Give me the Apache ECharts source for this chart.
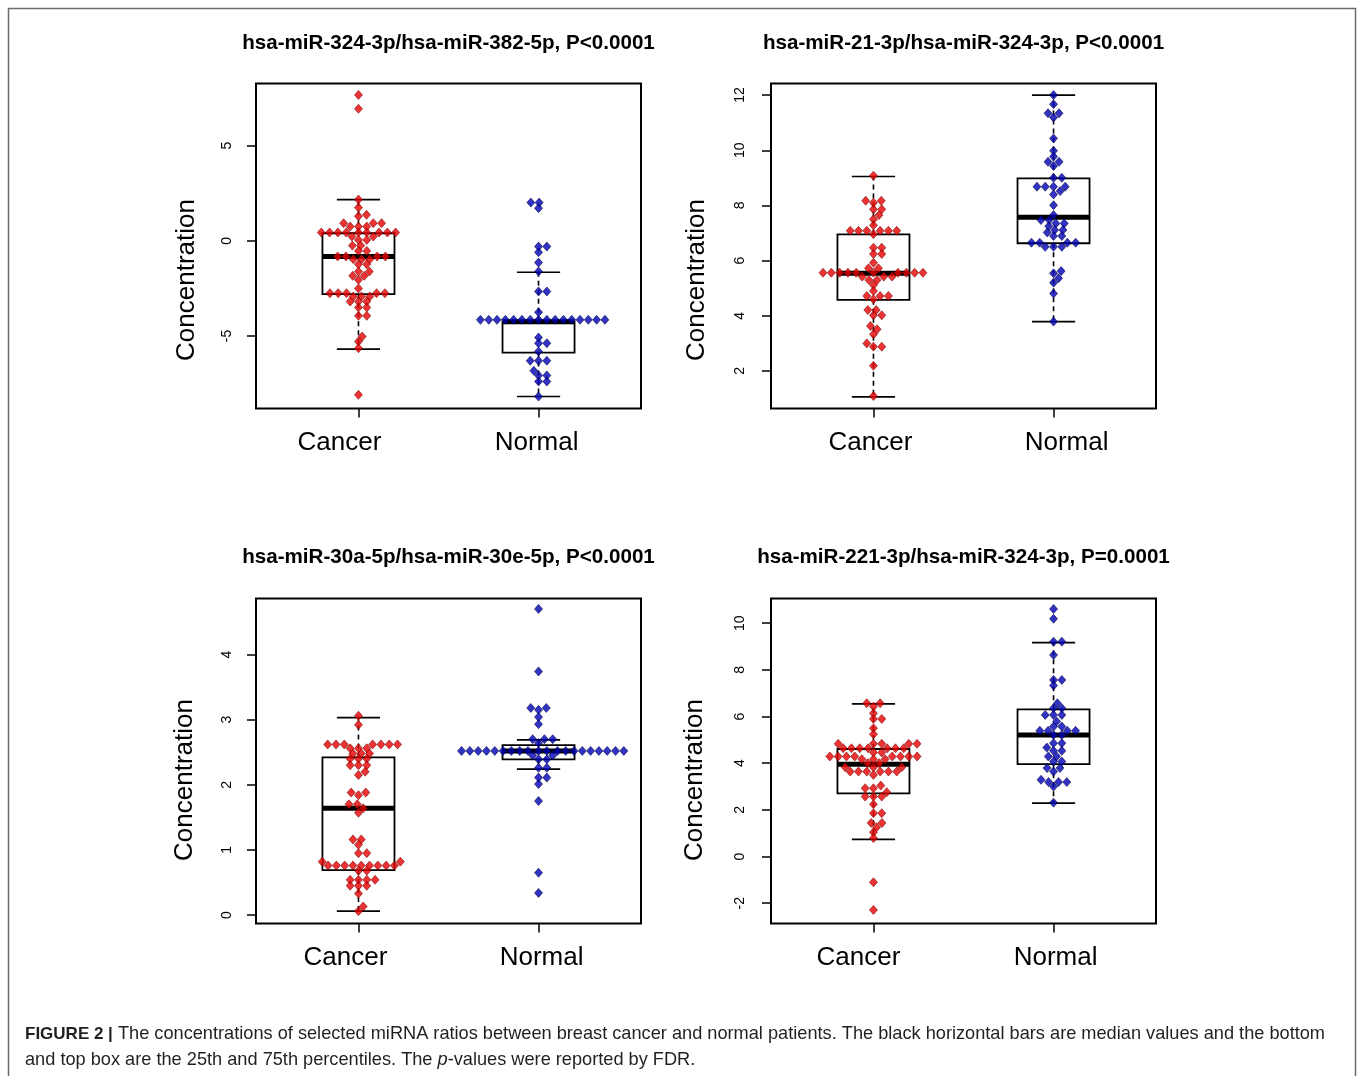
<!DOCTYPE html>
<html><head><meta charset="utf-8">
<script src="https://cdn.jsdelivr.net/npm/echarts@6/dist/echarts.min.js"></script>
<style>html,body{margin:0;padding:0;background:#fff}#c{width:1358px;height:1076px}</style>
</head><body><div id="c"></div>
<script>
// ---------------- data ----------------
const categories = ['Cancer', 'Normal'];
const titles = [
  'hsa-miR-324-3p/hsa-miR-382-5p, P<0.0001',
  'hsa-miR-21-3p/hsa-miR-324-3p, P<0.0001',
  'hsa-miR-30a-5p/hsa-miR-30e-5p, P<0.0001',
  'hsa-miR-221-3p/hsa-miR-324-3p, P=0.0001'
];
const yAxisName = 'Concentration';
const yTicks = [[-5, 0, 5], [2, 4, 6, 8, 10, 12], [0, 1, 2, 3, 4], [-2, 0, 2, 4, 6, 8, 10]];
const yRanges = [[-8.81, 8.27], [0.64, 12.42], [-0.13, 4.86], [-2.87, 11.06]];

const p1Cancer = [7.67, 6.94, 2.17, 1.75, 1.37, 1.30, 0.93, 0.93, 0.93, 0.75, 0.75, 0.75,
  0.44, 0.44, 0.44, 0.44, 0.44, 0.44, 0.44, 0.44, 0.44, 0.23, 0.23, 0.05, 0.05, -0.25, -0.25,
  -0.53, -0.53, -0.82, -0.82, -0.82, -0.82, -0.96, -0.96, -0.96, -1.23, -1.23, -1.61, -1.61,
  -1.84, -1.84, -2.05, -2.50, -2.75, -2.75, -2.75, -2.75, -2.75, -2.92, -2.92, -2.92,
  -3.19, -3.19, -3.19, -3.50, -3.50, -3.94, -3.94, -5.03, -5.29, -5.64, -8.09];
const p1Normal = [2.01, 2.01, 1.72, -0.30, -0.30, -0.60, -1.14, -1.61, -2.66, -2.66, -3.75,
  -4.15, -4.15, -4.15, -4.15, -4.15, -4.15, -4.15, -4.15, -4.15, -4.15, -4.15, -4.15, -4.15, -4.15, -4.15, -4.15,
  -5.08, -5.38, -5.38, -5.81, -6.30, -6.30, -6.30, -6.83, -7.07, -7.07, -7.39, -7.39, -8.18];
const p1Box = [[-5.69, -2.80, -0.82, 0.40, 2.17], [-8.18, -5.87, -4.25, -4.25, -1.65]];

const p2Cancer = [9.08, 8.17, 8.17, 8.10, 7.86, 7.86, 7.65, 7.50, 7.28,
  7.08, 7.08, 7.08, 7.08, 7.08, 7.08, 6.96, 6.47, 6.47, 6.24, 6.24, 5.92, 5.72, 5.72,
  5.56, 5.56, 5.56, 5.56, 5.56, 5.56, 5.56, 5.56, 5.56, 5.56, 5.42, 5.42, 5.42, 5.30, 5.30,
  5.12, 4.90, 4.72, 4.72, 4.72, 4.60, 4.21, 4.21, 4.02, 4.02, 3.63, 3.51, 3.33, 3.00,
  2.88, 2.88, 2.19, 1.09];
const p2Normal = [12.0, 11.67, 11.34, 11.34, 11.19, 10.43, 9.98, 9.77, 9.58, 9.58, 9.43,
  9.00, 9.00, 8.68, 8.68, 8.68, 8.68, 8.52, 8.40, 8.01, 7.65, 7.47, 7.47, 7.35, 7.35, 7.25,
  7.11, 7.11, 7.02, 6.89, 6.89, 6.65, 6.65, 6.65, 6.65, 6.50, 6.50, 6.50, 5.62, 5.54, 5.36,
  5.20, 4.81, 3.79];
const p2Box = [[1.06, 4.58, 5.54, 6.95, 9.05], [3.79, 6.63, 7.57, 8.98, 12.0]];

const p3Cancer = [3.06, 2.92, 2.62, 2.62, 2.62, 2.62, 2.62, 2.62, 2.62, 2.56, 2.56, 2.56,
  2.48, 2.48, 2.48, 2.40, 2.40, 2.40, 2.30, 2.30, 2.30, 2.20, 2.15, 1.88, 1.88, 1.84,
  1.70, 1.70, 1.64, 1.57, 1.16, 1.16, 1.08, 0.95, 0.95, 0.82, 0.82,
  0.76, 0.76, 0.76, 0.76, 0.76, 0.76, 0.76, 0.76, 0.76, 0.68, 0.68,
  0.54, 0.54, 0.54, 0.54, 0.45, 0.45, 0.45, 0.33, 0.13, 0.06];
const p3Normal = [4.70, 3.74, 3.18, 3.18, 3.15, 3.04, 2.93, 2.70, 2.70, 2.70, 2.64,
  2.52, 2.52, 2.52, 2.52, 2.52, 2.52, 2.52, 2.52, 2.52, 2.52, 2.52, 2.52, 2.52, 2.52, 2.52, 2.52, 2.52, 2.52, 2.52, 2.52,
  2.45, 2.45, 2.39, 2.39, 2.26, 2.26, 2.11, 2.11, 2.01, 1.75, 0.65, 0.34];
const p3Box = [[0.06, 0.69, 1.64, 2.42, 3.03], [2.24, 2.39, 2.52, 2.61, 2.69]];

const p4Cancer = [6.57, 6.57, 6.43, 6.14, 5.90, 5.90, 5.50, 5.24,
  4.83, 4.83, 4.83, 4.83, 4.83, 4.64, 4.64, 4.64, 4.64, 4.64, 4.64, 4.64, 4.46, 4.46,
  4.29, 4.29, 4.29, 4.29, 4.29, 4.29, 4.29, 4.29, 4.17, 4.17, 4.17, 4.00, 4.00,
  3.83, 3.83, 3.83, 3.64, 3.64, 3.64, 3.64, 3.64, 3.64, 3.50, 3.04, 2.93, 2.93, 2.76,
  2.57, 2.57, 2.57, 2.24, 1.86, 1.86, 1.44, 1.44, 1.26, 1.04, 0.79, -1.10, -2.29];
const p4Normal = [10.61, 10.19, 9.21, 9.21, 8.64, 7.57, 7.57, 7.33, 6.57, 6.36, 6.36,
  6.07, 6.07, 6.07, 5.79, 5.57, 5.57, 5.39, 5.39, 5.39, 5.39, 5.21, 5.21, 4.86, 4.86, 4.67,
  4.53, 4.53, 4.29, 4.29, 4.07, 4.07, 3.79, 3.79, 3.64, 3.29, 3.19, 3.19, 3.19, 3.00, 2.31];
const p4Box = [[0.74, 2.71, 3.96, 4.61, 6.54], [2.29, 3.96, 5.21, 6.31, 9.17]];

const captionLine1 = 'The concentrations of selected miRNA ratios between breast cancer and normal patients. The black horizontal bars are median values and the bottom';
const captionLine2a = 'and top box are the 25th and 75th percentiles. The ';
const captionLine2b = '-values were reported by FDR.';

// ---------------- layout ----------------
const panels = [
  {cancer: p1Cancer, normal: p1Normal, box: p1Box},
  {cancer: p2Cancer, normal: p2Normal, box: p2Box},
  {cancer: p3Cancer, normal: p3Normal, box: p3Box},
  {cancer: p4Cancer, normal: p4Normal, box: p4Box}
];
const FONT = "'Liberation Sans', Arial, Helvetica, sans-serif";
const GW = 385, GH = 325;
const gridPos = [[256, 83.5], [771, 83.5], [256, 598.5], [771, 598.5]];
const labelShift = [[-19, -2], [-3, 13], [-13, 3], [-15, 2]];
const nameShift = [34, 34, 19, 19];
const nameGaps = [56, 61, 58, 63];
const labelMargins = [22, 24, 22, 24];
const titleTops = [33, 33, 547, 547];
const XMIN = 0.431, XMAX = 2.569;
const RED = '#e60000', RED_EDGE = '#7a0000', BLUE = '#0000b4', BLUE_EDGE = '#00004a';
const DOT = 8.3, YSQUEEZE = 1.5;

function swarm(values, pxPerUnit, d, k) {
  const idx = values.map((v, i) => i).sort((a, b) => values[a] - values[b]);
  const placed = [];
  const off = new Array(values.length).fill(0);
  for (const i of idx) {
    const y = values[i] * pxPerUnit * k;
    const near = placed.filter(p => Math.abs(p.y - y) < d);
    const cands = [0];
    near.forEach(p => {
      const dx = Math.sqrt(Math.max(0, d * d - (p.y - y) * (p.y - y)));
      cands.push(p.x + dx, p.x - dx);
    });
    cands.sort((a, b) => (Math.abs(a) - Math.abs(b)) || (b - a));
    let best = 0;
    for (const c of cands) {
      if (near.every(p => (p.x - c) * (p.x - c) + (p.y - y) * (p.y - y) >= d * d - 1e-6)) { best = c; break; }
    }
    placed.push({x: best, y: y});
    off[i] = best;
  }
  return off;
}

function renderBox(params, api) {
  const x = api.value(0);
  const lo = api.coord([x, api.value(1)]);
  const q1 = api.coord([x, api.value(2)]);
  const md = api.coord([x, api.value(3)]);
  const q3 = api.coord([x, api.value(4)]);
  const hi = api.coord([x, api.value(5)]);
  const bw = api.size([0.4, 0])[0];
  const cw = api.size([0.24, 0])[0];
  const cx = lo[0];
  const dash = {stroke: '#000', lineWidth: 1.6, lineDash: [5, 4], fill: null};
  const solid = {stroke: '#000', lineWidth: 1.7, fill: null};
  return {type: 'group', children: [
    {type: 'line', shape: {x1: cx, y1: q3[1], x2: cx, y2: hi[1]}, style: dash},
    {type: 'line', shape: {x1: cx, y1: q1[1], x2: cx, y2: lo[1]}, style: dash},
    {type: 'line', shape: {x1: cx - cw / 2, y1: hi[1], x2: cx + cw / 2, y2: hi[1]}, style: solid},
    {type: 'line', shape: {x1: cx - cw / 2, y1: lo[1], x2: cx + cw / 2, y2: lo[1]}, style: solid},
    {type: 'rect', shape: {x: cx - bw / 2, y: q3[1], width: bw, height: q1[1] - q3[1]}, style: {stroke: '#000', lineWidth: 1.8, fill: 'rgba(0,0,0,0)'}},
    {type: 'line', shape: {x1: cx - bw / 2, y1: md[1], x2: cx + bw / 2, y2: md[1]}, style: {stroke: '#000', lineWidth: 5}}
  ]};
}

const grid = [], xAxis = [], yAxis = [], series = [], title = [];
panels.forEach((p, i) => {
  grid.push({left: gridPos[i][0], top: gridPos[i][1], width: GW, height: GH,
    show: true, borderColor: '#000', borderWidth: 2, backgroundColor: 'transparent'});
  const [sc, sn] = labelShift[i];
  const pad = s => s < 0 ? [0, -2 * s, 0, 0] : [0, 0, 0, 2 * s];
  xAxis.push({type: 'value', gridIndex: i, min: XMIN, max: XMAX,
    axisLine: {show: false, onZero: false}, splitLine: {show: false},
    axisTick: {show: true, customValues: [1, 2], length: 9, lineStyle: {color: '#000', width: 1.5}},
    axisLabel: {customValues: [1, 2], margin: 21, fontFamily: FONT, fontSize: 26, color: '#000',
      formatter: v => (Math.round(v) === 1 ? '{c|' + categories[0] + '}' : '{n|' + categories[1] + '}'),
      rich: {c: {fontFamily: FONT, fontSize: 26, color: '#000', padding: pad(sc)},
             n: {fontFamily: FONT, fontSize: 26, color: '#000', padding: pad(sn)}}}
  });
  yAxis.push({type: 'value', gridIndex: i, min: yRanges[i][0], max: yRanges[i][1],
    name: yAxisName, nameLocation: 'middle', nameRotate: 90, nameGap: nameGaps[i],
    nameTextStyle: {fontFamily: FONT, fontSize: 26, color: '#000', padding: [0, 2 * nameShift[i], 0, 0]},
    axisLine: {show: false, onZero: false}, splitLine: {show: false},
    axisTick: {show: true, customValues: yTicks[i], length: 9, lineStyle: {color: '#000', width: 1.5}},
    axisLabel: {customValues: yTicks[i], rotate: 90, margin: labelMargins[i], fontFamily: FONT, fontSize: 14, color: '#000'}
  });
  title.push({text: titles[i], left: gridPos[i][0] + GW / 2, top: titleTops[i], textAlign: 'center', padding: 0,
    textStyle: {fontFamily: FONT, fontWeight: 'bold', fontSize: 20.6, color: '#000'}});

  const pxPerUnit = GH / (yRanges[i][1] - yRanges[i][0]);
  const offC = swarm(p.cancer, pxPerUnit, DOT, YSQUEEZE);
  const offN = swarm(p.normal, pxPerUnit, DOT, YSQUEEZE);

  series.push({type: 'custom', xAxisIndex: i, yAxisIndex: i, z: 2, silent: true,
    renderItem: renderBox,
    encode: {x: 0, y: [1, 2, 3, 4, 5]},
    data: [[1].concat(p.box[0]), [2].concat(p.box[1])]});
  series.push({type: 'scatter', xAxisIndex: i, yAxisIndex: i, z: 3, symbol: 'diamond', symbolSize: [8, 9],
    itemStyle: {color: RED, borderColor: RED_EDGE, borderWidth: 0.7},
    data: p.cancer.map((v, k) => ({value: [1, v], symbolOffset: [offC[k], 0]}))});
  series.push({type: 'scatter', xAxisIndex: i, yAxisIndex: i, z: 3, symbol: 'diamond', symbolSize: [8, 9],
    itemStyle: {color: BLUE, borderColor: BLUE_EDGE, borderWidth: 0.7},
    data: p.normal.map((v, k) => ({value: [2, v], symbolOffset: [offN[k], 0]}))});
});

const chart = echarts.init(document.getElementById('c'), null, {renderer: 'canvas'});
chart.setOption({
  animation: false,
  backgroundColor: '#fff',
  title: title, grid: grid, xAxis: xAxis, yAxis: yAxis, series: series,
  graphic: [
    {type: 'rect', shape: {x: 8.5, y: 8.5, width: 1347, height: 1100}, style: {fill: null, stroke: '#6a6a6a', lineWidth: 1.5}, silent: true},
    {type: 'text', left: 25, top: 1021, silent: true,
      style: {text: '{b|FIGURE 2 |} ' + captionLine1 + '\n' + captionLine2a + '{i|p}' + captionLine2b,
        fontFamily: FONT, fontSize: 18.2, fill: '#231f20', lineHeight: 26,
        rich: {b: {fontFamily: FONT, fontSize: 17, fontWeight: 'bold', fill: '#231f20', lineHeight: 26},
               i: {fontFamily: FONT, fontSize: 18.2, fontStyle: 'italic', fill: '#231f20', lineHeight: 26}}}}
  ]
});
</script></body></html>
